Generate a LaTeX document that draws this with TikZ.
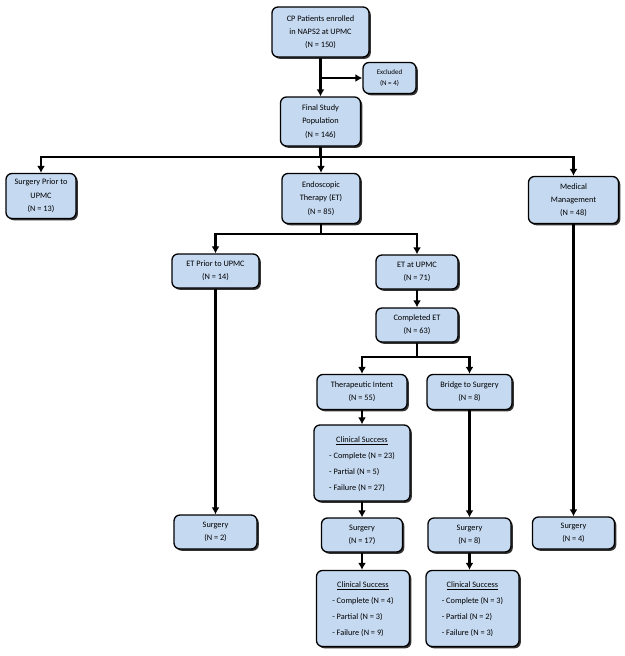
\documentclass[tikz,border=0pt]{standalone}
\usepackage{fontspec}
\setmainfont{Carlito}
\usepackage{tikz}
\usetikzlibrary{arrows.meta, shadows, positioning}
\definecolor{boxblue}{RGB}{197,217,241}

\newcommand{\cslist}[3]{\renewcommand{\arraystretch}{1.2}%
  \begin{tabular}{@{}l@{}}\multicolumn{1}{@{}c@{}}{\underline{Clinical Success}}\\
  - Complete (N = #1)\\ - Partial (N = #2)\\ - Failure (N = #3)\end{tabular}}

\begin{document}
\begin{tikzpicture}[x=1pt, y=-1pt, font=\fontsize{8.3}{13.3}\selectfont,
    box/.style={draw, line width=1.3pt, rounded corners=6pt, fill=boxblue, align=center, inner sep=2pt,
        drop shadow={shadow xshift=1.8pt, shadow yshift=-1.8pt, fill=black!80, opacity=1}},
    line/.style={line width=2.4pt},
    arr/.style={line width=2.4pt, -{Latex[length=7pt, width=8pt]}}]
    \useasboundingbox (0,0) rectangle (624,656);

    % top part
    \node (top) at (320.5,32) [box, minimum width=97pt, minimum height=50pt] {CP Patients enrolled\\in NAPS2 at UPMC\\(N = 150)};
    \node (excl) at (389.5,78) [box, minimum width=53pt, minimum height=31pt, font=\fontsize{7}{11}\selectfont] {Excluded\\(N = 4)};
    \node (final) at (320.5,121.5) [box, minimum width=80pt, minimum height=49pt] {Final Study\\Population\\(N = 146)};

    % first split
    \node (sprior) at (41,196) [box, minimum width=70pt, minimum height=45pt] {Surgery Prior to\\UPMC\\(N = 13)};
    \node (endo) at (321,198.5) [box, minimum width=78pt, minimum height=50pt] {Endoscopic\\Therapy (ET)\\(N = 85)};
    \node (med) at (573.5,200) [box, minimum width=90pt, minimum height=47pt] {Medical\\Management\\(N = 48)};

    % ET branch
    \node (etprior) at (215.5,271) [box, minimum width=87pt, minimum height=34pt] {ET Prior to UPMC\\(N = 14)};
    \node (etupmc) at (417,272) [box, minimum width=82pt, minimum height=34pt] {ET at UPMC\\(N = 71)};
    \node (compl) at (417,325) [box, minimum width=82pt, minimum height=34pt] {Completed ET\\(N = 63)};
    \node (thera) at (362,392) [box, minimum width=90pt, minimum height=35pt] {Therapeutic Intent\\(N = 55)};
    \node (bridge) at (469.5,392) [box, minimum width=85pt, minimum height=35pt] {Bridge to Surgery\\(N = 8)};
    \node (cs1) at (362,463) [box, minimum width=96pt, minimum height=76pt] {\cslist{23}{5}{27}};

    % surgery row
    \node (surg2) at (215.5,532) [box, minimum width=83pt, minimum height=34pt] {Surgery\\(N = 2)};
    \node (surg17) at (362,535) [box, minimum width=81pt, minimum height=34pt] {Surgery\\(N = 17)};
    \node (surg8) at (469.5,535) [box, minimum width=83pt, minimum height=34pt] {Surgery\\(N = 8)};
    \node (surg4) at (573.5,533) [box, minimum width=82pt, minimum height=32pt] {Surgery\\(N = 4)};

    % outcomes after surgery
    \node (cs2) at (363,608.5) [box, minimum width=93pt, minimum height=76pt] {\cslist{4}{3}{9}};
    \node (cs3) at (472.5,608.5) [box, minimum width=93pt, minimum height=76pt] {\cslist{3}{2}{3}};

    % connectors
    \coordinate (ex) at (top.south |- excl.west);
    \coordinate (b1) at (320.5,157);
    \coordinate (b2) at (321,234);
    \coordinate (b3) at (417,357);

    \draw [arr] (top) -- (final);
    \draw [arr] (ex) -- (excl.west);
    \draw [line] (final) -- (b1);
    \draw [arr] (b1) -| (sprior.north);
    \draw [arr] (b1) -| (endo.north);
    \draw [arr] (b1) -| (med.north);

    \draw [line] (endo) -- (b2);
    \draw [arr] (b2) -| (etprior.north);
    \draw [arr] (b2) -| (etupmc.north);
    \draw [arr] (etupmc) -- (compl);
    \draw [line] (compl) -- (b3);
    \draw [arr] (b3) -| (thera.north);
    \draw [arr] (b3) -| (bridge.north);

    \draw [arr] (thera) -- (cs1);
    \draw [arr] (cs1) -- (surg17);
    \draw [arr] (surg17) -- (surg17.south |- cs2.north);
    \draw [arr] (bridge) -- (surg8);
    \draw [arr] (surg8) -- (surg8.south |- cs3.north);
    \draw [arr] (etprior) -- (surg2);
    \draw [arr] (med) -- (surg4);
\end{tikzpicture}
\end{document}
